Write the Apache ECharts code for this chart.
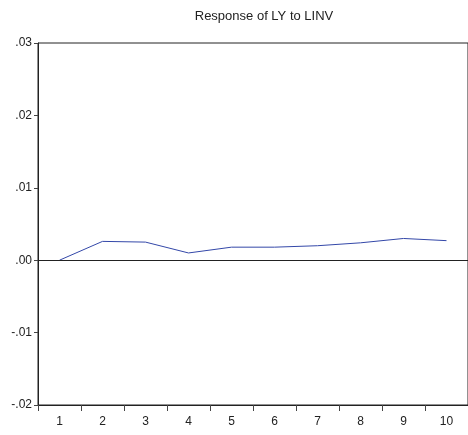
<!DOCTYPE html>
<html><head><meta charset="utf-8">
<script src="https://cdn.jsdelivr.net/npm/echarts@6/dist/echarts.min.js"></script>
<style>html,body{margin:0;padding:0;background:#fff}#c{width:468px;height:435px}</style>
</head><body><div id="c"></div>
<script>
var titleText = "Response of LY to LINV";
var categories = ["1","2","3","4","5","6","7","8","9","10"];
var response = [0.0000, 0.0026, 0.0025, 0.0010, 0.0018, 0.0018, 0.0020, 0.0024, 0.0030, 0.0027];
var yTicks = [-0.02, -0.01, 0.00, 0.01, 0.02, 0.03];

function fmt(v){
  var s = Math.abs(v).toFixed(2).replace(/^0/, "");
  return (v < -1e-9 ? "-" : "") + s;
}
var chart = echarts.init(document.getElementById('c'), null, {renderer:'canvas'});
var font = '"Liberation Sans Narrow", "Liberation Sans", Arial, sans-serif';
chart.setOption({
  animation:false,
  title:{text:titleText, left:259, top:5, textAlign:'center',
    textStyle:{fontFamily:font, fontSize:13, fontWeight:'normal', color:'#222'}},
  grid:{left:38, top:43, width:436, height:362, show:true, borderColor:'#222', borderWidth:1, backgroundColor:'transparent'},
  xAxis:{type:'category', data:categories, boundaryGap:true,
    axisLine:{onZero:false, lineStyle:{color:'#222', width:1}},
    axisTick:{show:true, inside:false, length:6, lineStyle:{color:'#444'}},
    axisLabel:{fontFamily:font, fontSize:12, color:'#222', margin:11},
    splitLine:{show:false}},
  yAxis:{type:'value', min:yTicks[0], max:yTicks[yTicks.length-1], interval:0.01,
    axisLine:{show:true, lineStyle:{color:'#222', width:1}},
    axisTick:{show:true, inside:false, length:4, lineStyle:{color:'#444'}},
    axisLabel:{fontFamily:font, fontSize:12, color:'#222', margin:6, formatter:fmt},
    splitLine:{show:false}},
  series:[{type:'line', data:response, symbol:'none',
    lineStyle:{color:'#3347A8', width:1},
    markLine:{silent:true, symbol:'none', label:{show:false},
      lineStyle:{color:'#222', width:1, type:'solid'},
      data:[{yAxis:0}]}}]
});
</script></body></html>
